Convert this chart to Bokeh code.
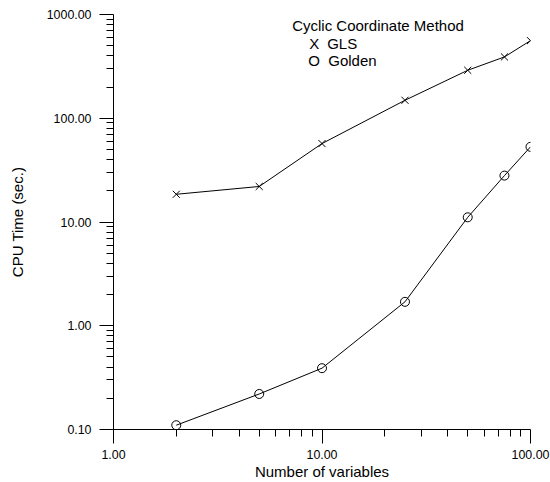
from bokeh.plotting import figure
from bokeh.models import Range1d, FixedTicker, PrintfTickFormatter, Label
from bokeh.embed import file_html
from bokeh.resources import INLINE

# ---- data ----
n_vars = [2, 5, 10, 25, 50, 75, 100]
cpu_gls = [18.5, 22, 57, 149, 290, 390, 560]
cpu_golden = [0.11, 0.22, 0.39, 1.7, 11.1, 28, 53]
x_major = [1, 10, 100]
y_major = [0.1, 1, 10, 100, 1000]
legend_title = "Cyclic Coordinate Method"
legend_symbols = ["X", "O"]
legend_names = ["GLS", "Golden"]

FONT = "Liberation Sans"

x_minor = [m * 10 ** e for e in (0, 1) for m in range(2, 10)]
y_minor = [m * 10.0 ** e for e in (-1, 0, 1, 2) for m in range(2, 10)]

p = figure(width=550, height=482, x_axis_type="log", y_axis_type="log",
           x_range=Range1d(1, 100), y_range=Range1d(0.1, 1000),
           output_backend="svg", toolbar_location=None,
           min_border_left=113, min_border_right=20,
           min_border_top=14, min_border_bottom=52)

p.xgrid.visible = False
p.ygrid.visible = False
p.outline_line_color = None

p.xaxis.ticker = FixedTicker(ticks=x_major, minor_ticks=x_minor)
p.yaxis.ticker = FixedTicker(ticks=y_major, minor_ticks=y_minor)

for ax in (p.xaxis, p.yaxis):
    ax.formatter = PrintfTickFormatter(format="%.2f")
    ax.major_tick_in = 0
    ax.major_tick_out = 14
    ax.minor_tick_in = 0
    ax.minor_tick_out = 7
    ax.axis_line_color = "black"
    ax.major_tick_line_color = "black"
    ax.minor_tick_line_color = "black"
    ax.major_label_text_font = FONT
    ax.major_label_text_font_size = "12.4px"
    ax.major_label_text_color = "black"
    ax.axis_label_text_font = FONT
    ax.axis_label_text_font_size = "15px"
    ax.axis_label_text_font_style = "normal"
    ax.axis_label_text_color = "black"

p.xaxis.axis_label = "Number of variables"
p.xaxis.major_label_standoff = 6
p.xaxis.axis_label_standoff = 1
p.yaxis.axis_label = "CPU Time (sec.)"
p.yaxis.major_label_standoff = 8
p.yaxis.axis_label_standoff = 18

p.line(n_vars, cpu_gls, line_color="black", line_width=1)
p.scatter(n_vars, cpu_gls, marker="x", size=10, line_color="black", line_width=1)
p.line(n_vars, cpu_golden, line_color="black", line_width=1)
p.scatter(n_vars, cpu_golden, marker="circle", size=9, line_color="black",
          fill_color=None, line_width=1)

def lab(x, y, t):
    p.add_layout(Label(x=x, y=y, text=t, text_font=FONT, text_font_size="15px",
                       text_color="black", text_baseline="alphabetic"))

lab(7.19, 787, legend_title)
lab(8.68, 531, legend_symbols[0])
lab(10.59, 531, legend_names[0])
lab(8.59, 363, legend_symbols[1])
lab(10.71, 363, legend_names[1])

open("out.html", "w").write(file_html(p, INLINE))
